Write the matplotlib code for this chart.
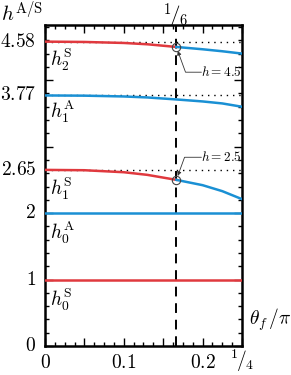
import matplotlib
matplotlib.use("Agg")
import matplotlib.pyplot as plt
import numpy as np
from matplotlib.ticker import MultipleLocator

plt.rcParams['mathtext.fontset'] = 'cm'
plt.rcParams['font.family'] = 'serif'
plt.rcParams['font.serif'] = ['DejaVu Serif']

# data
theta = [0, 0.05, 0.1, 0.13, 1/6, 0.2, 0.225, 0.25]
h2S = [4.58, 4.575, 4.56, 4.54, 4.50, 4.465, 4.435, 4.40]
h1A = [3.77, 3.767, 3.755, 3.74, 3.71, 3.68, 3.65, 3.60]
h1S = [2.65, 2.645, 2.615, 2.575, 2.50, 2.42, 2.33, 2.21]
h0A = [2.0] * len(theta)
h0S = [1.0] * len(theta)
theta_c = 1/6
mark_h = [4.5, 2.5]
ref_levels = [4.58, 3.77, 2.65]
curve_labels = [r'$h_2^{\rm S}$', r'$h_1^{\rm A}$', r'$h_1^{\rm S}$', r'$h_0^{\rm A}$', r'$h_0^{\rm S}$']
label_y = [4.30, 3.53, 2.37, 1.70, 0.70]

red = '#e0393e'
blue = '#1a90d4'

fig = plt.figure(figsize=(2.91, 3.75), dpi=100)
ax = fig.add_axes([0.1546, 0.0773, 0.677, 0.856])

th = np.array(theta)
cut = th <= theta_c + 1e-9
post = th >= theta_c - 1e-9

for yv in ref_levels:
    ax.axhline(yv, color='black', ls=(0, (1, 3.5)), lw=1.0, zorder=1)

# curves switching colour at the crossing point
for curve in (h2S, h1S):
    c = np.array(curve)
    ax.plot(th[cut], c[cut], color=red, lw=1.8, zorder=3)
    ax.plot(th[post], c[post], color=blue, lw=1.8, zorder=3)
ax.plot(theta, h1A, color=blue, lw=1.8, zorder=3)
ax.plot(theta, h0A, color=blue, lw=1.8, zorder=3)
ax.plot(theta, h0S, color=red, lw=1.8, zorder=3)

ax.axvline(theta_c, color='black', ls=(0, (5, 3.5)), lw=1.4, zorder=2)

ax.plot([theta_c] * len(mark_h), mark_h, 'o', mfc='none', mec='#444444',
        mew=0.8, ms=6, zorder=5)

ax.annotate(r'$h=4.5$', xy=(theta_c, mark_h[0]), xytext=(0.1985, 4.12),
            fontsize=9.5, ha='left', va='center',
            arrowprops=dict(arrowstyle='-|>', color='#333333', lw=0.6,
                            mutation_scale=6, shrinkA=0, shrinkB=3,
                            relpos=(0, 0.5), patchA=None,
                            connectionstyle='angle,angleA=0,angleB=110,rad=0'))
ax.annotate(r'$h=2.5$', xy=(theta_c, mark_h[1]), xytext=(0.1985, 2.84),
            fontsize=9.5, ha='left', va='center',
            arrowprops=dict(arrowstyle='-|>', color='#333333', lw=0.6,
                            mutation_scale=6, shrinkA=0, shrinkB=3,
                            relpos=(0, 0.5), patchA=None,
                            connectionstyle='angle,angleA=0,angleB=70,rad=0'))

for lab, yv in zip(curve_labels, label_y):
    ax.text(0.006, yv, lab, fontsize=14, ha='left', va='center')

ax.set_xlim(0, 0.25)
ax.set_ylim(0, 4.83)

ax.xaxis.set_major_locator(MultipleLocator(0.05))
ax.xaxis.set_minor_locator(MultipleLocator(0.0125))
ax.yaxis.set_major_locator(MultipleLocator(1))
ax.yaxis.set_minor_locator(MultipleLocator(0.2))
ax.set_xticklabels([])
ax.set_yticklabels([])
ax.tick_params(which='both', direction='in', top=True, right=True, width=1.0)
ax.tick_params(which='major', length=6)
ax.tick_params(which='minor', length=3)
for s in ax.spines.values():
    s.set_linewidth(1.8)

# tick labels as text
ytr = ax.get_yaxis_transform()
for yv in [0, 1, 2] + ref_levels:
    txt = r'$%g$' % yv
    ax.text(-0.045, yv, txt, transform=ytr, fontsize=14, ha='right', va='center')
xtr = ax.get_xaxis_transform()
for xv in [0, 0.1, 0.2]:
    ax.text(xv, -0.025, r'$%g$' % xv, transform=xtr, fontsize=14, ha='center', va='top')
fig.text(0.832, 0.004, r'$^{1}\!/_{4}$', fontsize=14, ha='center', va='bottom')
fig.text(0.605, 0.994, r'$^{1}\!/_{6}$', fontsize=15, ha='center', va='top')

fig.text(0.005, 0.965, r'$h^{\rm A/S}$', fontsize=15, ha='left', va='center')
fig.text(0.855, 0.147, r'$\theta_f\,/\pi$', fontsize=14, ha='left', va='center')

fig.savefig('out.png', dpi=100)
